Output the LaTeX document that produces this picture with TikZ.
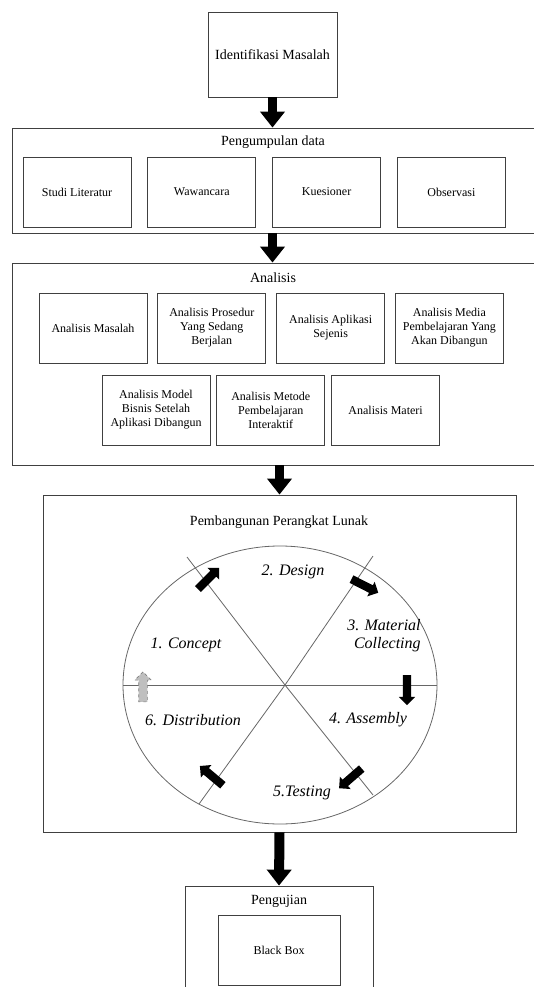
\documentclass[tikz,border=0pt]{standalone}
\usepackage{fontspec}
\setmainfont{Liberation Serif}
\usetikzlibrary{positioning,arrows.meta,shapes.arrows}

\begin{document}
\begin{tikzpicture}[x=1pt,y=-1pt,
    box/.style={draw=black!75,line width=0.8pt,minimum width=108pt,minimum height=70pt,
        align=center,inner sep=2pt,font=\fontsize{12}{14}\selectfont},
    frame/.style={draw=black!75,line width=0.8pt,inner sep=0pt},
    heading/.style={font=\fontsize{14}{16}\selectfont},
    phase/.style={font=\fontsize{16}{18}\selectfont\itshape},
    spoke/.style={draw=black!60,line width=0.8pt},
    bigarrow/.style={line width=9pt,-{Triangle[width=24pt,length=16pt]}},
    cyc/.style={single arrow,fill=black,inner sep=4pt,single arrow head extend=4pt,minimum height=30pt}]
    \useasboundingbox (0,0) rectangle (534,987);
    \clip (0,0) rectangle (534,987);

    \node[box,minimum width=129pt,minimum height=85pt,font=\fontsize{14}{16}\selectfont] (idm) at (272.5,54.5) {Identifikasi Masalah};

    \node[frame,minimum width=528pt,minimum height=105pt] (peng) at (276,180.5) {};
    \node[heading] (tpeng) at (273,142) {Pengumpulan data};
    \node[box] (studi) at (77,192) {Studi Literatur};
    \node[box] (wawan) [right=16pt of studi] {Wawancara};
    \node[box] (kues) [right=16pt of wawan] {Kuesioner};
    \node[box] (obs) [right=16pt of kues] {Observasi};

    \node[frame,minimum width=528pt,minimum height=202pt] (ana) at (276,364) {};
    \node[heading] (tana) at (273,278) {Analisis};
    \node[box] (amas) at (93,328) {Analisis Masalah};
    \node[box] (apro) [right=10pt of amas] {Analisis Prosedur\\Yang Sedang\\Berjalan};
    \node[box] (aapl) [right=10pt of apro] {Analisis Aplikasi\\Sejenis};
    \node[box] (amed) [right=10pt of aapl] {Analisis Media\\Pembelajaran Yang\\Akan Dibangun};
    \node[box] (amod) at (156,410) {Analisis Model\\Bisnis Setelah\\Aplikasi Dibangun};
    \node[box] (amet) [right=6pt of amod] {Analisis Metode\\Pembelajaran\\Interaktif};
    \node[box] (amat) [right=6pt of amet] {Analisis Materi};

    \node[frame,minimum width=473pt,minimum height=337pt] (pem) at (279.5,663.5) {};
    \node[heading] (tpem) at (279,522) {Pembangunan Perangkat Lunak};
    \draw[spoke] (280,685) ellipse [x radius=157pt,y radius=139pt];
    \coordinate (hub) at (285,685);
    \coordinate (s1) at (187,557);
    \coordinate (s2) at (373,556);
    \coordinate (s3) at (437,685);
    \coordinate (s4) at (373,795);
    \coordinate (s5) at (199,804);
    \coordinate (s6) at (123,685);
    \foreach \s in {s1,s2,s3,s4,s5,s6}
        \draw[spoke] (hub) -- (\s);
    \node[cyc,rotate=45] (a1) at (207,580) {};
    \node[cyc,rotate=-27] (a2) at (363,585) {};
    \node[cyc,rotate=-90] (a3) at (407,688) {};
    \node[cyc,rotate=-139] (a4) at (352,777) {};
    \node[cyc,rotate=140] (a5) at (213,777) {};
    \node[cyc,rotate=90,fill=black!25,draw=black!50,dashed,line width=0.6pt] (a6) at (143,689) {};
    \node[phase] (p1) at (186,645) {1. Concept};
    \node[phase] (p2) at (293,572) {2. Design};
    \node[phase,align=right] (p3) at (384,636) {3. Material\\Collecting};
    \node[phase] (p4) at (368,720) {4. Assembly};
    \node[phase] (p5) at (302,793) {5.Testing};
    \node[phase] (p6) at (193,720) {6. Distribution};

    \node[frame,minimum width=188pt,minimum height=114pt] (pgj) at (279,943) {};
    \node[heading] (tpgj) at (279,901) {Pengujian};
    \node[box,minimum width=122pt] (bb) at (279,950) {Black Box};

    \draw[bigarrow] (idm.south) -- (idm.south |- peng.north);
    \draw[bigarrow] (peng.south -| idm.south) -- (ana.north -| idm.south);
    \draw[bigarrow] (ana.south -| pem.north) -- (pem.north);
    \draw[bigarrow,line width=10pt] (pem.south) -- (pgj.north);
\end{tikzpicture}
\end{document}
